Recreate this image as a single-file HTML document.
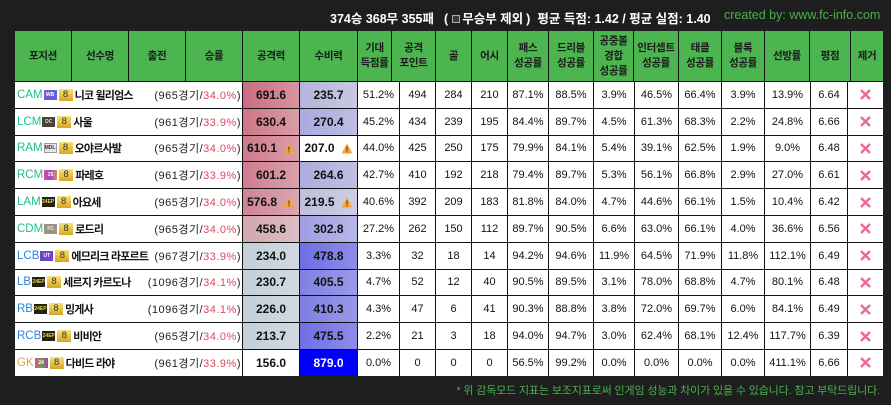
<!DOCTYPE html>
<html><head><meta charset="utf-8">
<style>
*{margin:0;padding:0;box-sizing:border-box}
html,body{width:891px;height:405px}
body{background:#1e1e1e;position:relative;overflow:hidden;font-family:"Liberation Sans","Noto Sans CJK KR",sans-serif}
.title{position:absolute;left:330px;top:11px;color:#fff;font-weight:bold;font-size:12.5px;white-space:nowrap;line-height:16px}
.title .sq{display:inline-block;width:8px;height:8px;background:#3a3a3a;border:1px solid #aaa;margin:0 2px 0 4px;vertical-align:0px}
.credit{position:absolute;left:724px;top:7px;color:#4caf50;font-size:12.5px;white-space:nowrap;line-height:16px}
.foot{position:absolute;right:11px;top:384px;color:#4caf50;font-size:11px;letter-spacing:-0.15px;white-space:nowrap;line-height:14px}
.hdr{position:absolute;left:15px;top:31px;width:868px;height:51px;display:grid;
grid-template-columns:56px 56px 56px 56px 56px 57px 33px 43px 35px 35px 40px 44px 39px 44px 42px 42px 44px 40px 32px;
grid-template-rows:50px;column-gap:1px;background:#111}
.hdr div{background:#4cb54f;display:flex;align-items:center;justify-content:center;text-align:center;font-weight:bold;font-size:10.5px;color:#1b1b1b;line-height:15px;letter-spacing:-0.3px;white-space:nowrap}
.bd{position:absolute;left:15px;top:82px;width:868px;height:294px;display:grid;
grid-template-columns:227px 56px 57px 41px 35px 35px 35px 40px 44px 40px 43px 42px 42px 45px 36px 35px;
grid-template-rows:repeat(11,25.8px);gap:1px;background:#111}
.bd>div{background:#fff;display:flex;align-items:center;justify-content:center;font-size:11px;color:#111;white-space:nowrap}
.bd>div.nm{justify-content:flex-start;padding:0 1px 0 2px}
.p{font-size:11.5px}
.m{color:#1fbe8b}.d{color:#2c83dc}.g{color:#e0a234}
.ic{display:inline-block;width:13px;height:10px;font-size:5px;font-style:normal;line-height:10px;text-align:center;margin-left:1px;overflow:hidden;font-weight:bold;font-family:"Liberation Sans",sans-serif}
.b8{display:inline-block;width:14px;height:12px;margin-left:2px;background:linear-gradient(#f7e07a,#d6a81c);color:#333;font-size:9.5px;line-height:12px;text-align:center;font-weight:normal;font-style:normal}
.n{font-weight:bold;font-size:11px;margin-left:2px;color:#111;letter-spacing:-0.8px}
.r{margin-left:auto;font-size:11px;color:#222;letter-spacing:0.5px}
.r em{font-style:normal;color:#e2455f}
.bd>div.v{font-weight:bold;font-size:12px}
.w{margin-left:6px;display:inline-block}
</style></head><body>
<div class="title">374승 368무 355패<span style="margin-left:10px">(<span class="sq"></span>무승부 제외<span style="margin-left:3px">)</span></span><span style="margin-left:7px">평균 득점: 1.42 / 평균 실점: 1.40</span></div>
<div class="credit">created by: www.fc-info.com</div>

<div class="hdr">
<div>포지션</div><div>선수명</div><div>출전</div><div>승률</div><div>공격력</div><div>수비력</div>
<div>기대<br>득점률</div><div>공격<br>포인트</div><div>골</div><div>어시</div><div>패스<br>성공률</div><div>드리블<br>성공률</div><div>공중볼<br>경합<br>성공률</div><div>인터셉트<br>성공률</div><div>태클<br>성공률</div><div>블록<br>성공률</div><div>선방률</div><div>평점</div><div>제거</div>
</div>

<div class="bd">
<!-- row 1 -->
<div class="nm"><span class="p m">CAM</span><i class="ic" style="background:#6b5fd8;color:#fff">WB</i><i class="b8">8</i><span class="n">니코 윌리엄스</span><span class="r">(965경기/<em>34.0%</em>)</span></div>
<div class="v" style="background:linear-gradient(90deg,#cb6c81,#d8949f)">691.6</div>
<div class="v" style="background:linear-gradient(90deg,#b4b4de,#c8c8e4)">235.7</div>
<div>51.2%</div><div>494</div><div>284</div><div>210</div><div>87.1%</div><div>88.5%</div><div>3.9%</div><div>46.5%</div><div>66.4%</div><div>3.9%</div><div>13.9%</div><div>6.64</div>
<div><svg width="13" height="13" viewBox="0 0 13 13"><path d="M2 2L11 11M11 2L2 11" stroke="#ec6a8a" stroke-width="2.4"/></svg></div>
<!-- row 2 -->
<div class="nm"><span class="p m">LCM</span><i class="ic" style="background:#4a4236;color:#ddd">DC</i><i class="b8">8</i><span class="n">사울</span><span class="r">(961경기/<em>33.9%</em>)</span></div>
<div class="v" style="background:linear-gradient(90deg,#cd7688,#d99ca7)">630.4</div>
<div class="v" style="background:linear-gradient(90deg,#a9a9e0,#bdbde4)">270.4</div>
<div>45.2%</div><div>434</div><div>239</div><div>195</div><div>84.4%</div><div>89.7%</div><div>4.5%</div><div>61.3%</div><div>68.3%</div><div>2.2%</div><div>24.8%</div><div>6.66</div>
<div><svg width="13" height="13" viewBox="0 0 13 13"><path d="M2 2L11 11M11 2L2 11" stroke="#ec6a8a" stroke-width="2.4"/></svg></div>
<!-- row 3 -->
<div class="nm"><span class="p m">RAM</span><i class="ic" style="background:#e6e6e6;color:#333;outline:1px solid #999;outline-offset:-1px">MDL</i><i class="b8">8</i><span class="n">오야르사발</span><span class="r">(965경기/<em>34.0%</em>)</span></div>
<div class="v" style="background:linear-gradient(90deg,#ce7a8c,#d99ea9)">610.1<svg class="w" width="12" height="11" viewBox="0 0 12 11"><path d="M6 0.5L11.5 10.5H0.5Z" fill="#f3a537"/><rect x="5.4" y="3.5" width="1.2" height="4" fill="#6a4300"/><rect x="5.4" y="8.3" width="1.2" height="1.2" fill="#6a4300"/></svg></div>
<div class="v">207.0<svg class="w" width="12" height="11" viewBox="0 0 12 11"><path d="M6 0.5L11.5 10.5H0.5Z" fill="#f3a537"/><rect x="5.4" y="3.5" width="1.2" height="4" fill="#6a4300"/><rect x="5.4" y="8.3" width="1.2" height="1.2" fill="#6a4300"/></svg></div>
<div>44.0%</div><div>425</div><div>250</div><div>175</div><div>79.9%</div><div>84.1%</div><div>5.4%</div><div>39.1%</div><div>62.5%</div><div>1.9%</div><div>9.0%</div><div>6.48</div>
<div><svg width="13" height="13" viewBox="0 0 13 13"><path d="M2 2L11 11M11 2L2 11" stroke="#ec6a8a" stroke-width="2.4"/></svg></div>
<!-- row 4 -->
<div class="nm"><span class="p m">RCM</span><i class="ic" style="background:linear-gradient(90deg,#d84a9a,#a04ad0,#e08a40);color:#fff">25</i><i class="b8">8</i><span class="n">파레호</span><span class="r">(961경기/<em>33.9%</em>)</span></div>
<div class="v" style="background:linear-gradient(90deg,#cf7c8e,#daa0aa)">601.2</div>
<div class="v" style="background:linear-gradient(90deg,#acacdf,#c0c0e4)">264.6</div>
<div>42.7%</div><div>410</div><div>192</div><div>218</div><div>79.4%</div><div>89.7%</div><div>5.3%</div><div>56.1%</div><div>66.8%</div><div>2.9%</div><div>27.0%</div><div>6.61</div>
<div><svg width="13" height="13" viewBox="0 0 13 13"><path d="M2 2L11 11M11 2L2 11" stroke="#ec6a8a" stroke-width="2.4"/></svg></div>
<!-- row 5 -->
<div class="nm"><span class="p m">LAM</span><i class="ic" style="background:#23230e;color:#e8d050">24EP</i><i class="b8">8</i><span class="n">아요세</span><span class="r">(965경기/<em>34.0%</em>)</span></div>
<div class="v" style="background:linear-gradient(90deg,#d08497,#dba6b0)">576.8<svg class="w" width="12" height="11" viewBox="0 0 12 11"><path d="M6 0.5L11.5 10.5H0.5Z" fill="#f3a537"/><rect x="5.4" y="3.5" width="1.2" height="4" fill="#6a4300"/><rect x="5.4" y="8.3" width="1.2" height="1.2" fill="#6a4300"/></svg></div>
<div class="v" style="background:linear-gradient(90deg,#bebedd,#cdcde3)">219.5<svg class="w" width="12" height="11" viewBox="0 0 12 11"><path d="M6 0.5L11.5 10.5H0.5Z" fill="#f3a537"/><rect x="5.4" y="3.5" width="1.2" height="4" fill="#6a4300"/><rect x="5.4" y="8.3" width="1.2" height="1.2" fill="#6a4300"/></svg></div>
<div>40.6%</div><div>392</div><div>209</div><div>183</div><div>81.8%</div><div>84.0%</div><div>4.7%</div><div>44.6%</div><div>66.1%</div><div>1.5%</div><div>10.4%</div><div>6.42</div>
<div><svg width="13" height="13" viewBox="0 0 13 13"><path d="M2 2L11 11M11 2L2 11" stroke="#ec6a8a" stroke-width="2.4"/></svg></div>
<!-- row 6 -->
<div class="nm"><span class="p m">CDM</span><i class="ic" style="background:#9c9482;color:#eee">FC</i><i class="b8">8</i><span class="n">로드리</span><span class="r">(965경기/<em>34.0%</em>)</span></div>
<div class="v" style="background:linear-gradient(90deg,#d2a6b1,#dcbec4)">458.6</div>
<div class="v" style="background:linear-gradient(90deg,#9f9fe2,#b6b6e6)">302.8</div>
<div>27.2%</div><div>262</div><div>150</div><div>112</div><div>89.7%</div><div>90.5%</div><div>6.6%</div><div>63.0%</div><div>66.1%</div><div>4.0%</div><div>36.6%</div><div>6.56</div>
<div><svg width="13" height="13" viewBox="0 0 13 13"><path d="M2 2L11 11M11 2L2 11" stroke="#ec6a8a" stroke-width="2.4"/></svg></div>
<!-- row 7 -->
<div class="nm"><span class="p d">LCB</span><i class="ic" style="background:#6c44c4;color:#fff">UT</i><i class="b8">8</i><span class="n">에므리크 라포르트</span><span class="r">(967경기/<em>33.9%</em>)</span></div>
<div class="v" style="background:linear-gradient(90deg,#c4cfd8,#d0d9df)">234.0</div>
<div class="v" style="background:linear-gradient(90deg,#6e6ee4,#8c8ce8)">478.8</div>
<div>3.3%</div><div>32</div><div>18</div><div>14</div><div>94.2%</div><div>94.6%</div><div>11.9%</div><div>64.5%</div><div>71.9%</div><div>11.8%</div><div>112.1%</div><div>6.49</div>
<div><svg width="13" height="13" viewBox="0 0 13 13"><path d="M2 2L11 11M11 2L2 11" stroke="#ec6a8a" stroke-width="2.4"/></svg></div>
<!-- row 8 -->
<div class="nm"><span class="p d">LB</span><i class="ic" style="background:#23230e;color:#e8d050">24EP</i><i class="b8">8</i><span class="n">세르지 카르도나</span><span class="r">(1096경기/<em>34.1%</em>)</span></div>
<div class="v" style="background:linear-gradient(90deg,#c4cfd8,#d0d9df)">230.7</div>
<div class="v" style="background:linear-gradient(90deg,#8080e3,#9a9ae8)">405.5</div>
<div>4.7%</div><div>52</div><div>12</div><div>40</div><div>90.5%</div><div>89.5%</div><div>3.1%</div><div>78.0%</div><div>68.8%</div><div>4.7%</div><div>80.1%</div><div>6.48</div>
<div><svg width="13" height="13" viewBox="0 0 13 13"><path d="M2 2L11 11M11 2L2 11" stroke="#ec6a8a" stroke-width="2.4"/></svg></div>
<!-- row 9 -->
<div class="nm"><span class="p d">RB</span><i class="ic" style="background:#23230e;color:#e8d050">24EP</i><i class="b8">8</i><span class="n">밍게사</span><span class="r">(1096경기/<em>34.1%</em>)</span></div>
<div class="v" style="background:linear-gradient(90deg,#c4cfd8,#d0d9df)">226.0</div>
<div class="v" style="background:linear-gradient(90deg,#7e7ee3,#9898e8)">410.3</div>
<div>4.3%</div><div>47</div><div>6</div><div>41</div><div>90.3%</div><div>88.8%</div><div>3.8%</div><div>72.0%</div><div>69.7%</div><div>6.0%</div><div>84.1%</div><div>6.49</div>
<div><svg width="13" height="13" viewBox="0 0 13 13"><path d="M2 2L11 11M11 2L2 11" stroke="#ec6a8a" stroke-width="2.4"/></svg></div>
<!-- row 10 -->
<div class="nm"><span class="p d">RCB</span><i class="ic" style="background:#23230e;color:#e8d050">24EP</i><i class="b8">8</i><span class="n">비비안</span><span class="r">(965경기/<em>34.0%</em>)</span></div>
<div class="v" style="background:linear-gradient(90deg,#c4cfd8,#d0d9df)">213.7</div>
<div class="v" style="background:linear-gradient(90deg,#6f6fe4,#8c8ce8)">475.5</div>
<div>2.2%</div><div>21</div><div>3</div><div>18</div><div>94.0%</div><div>94.7%</div><div>3.0%</div><div>62.4%</div><div>68.1%</div><div>12.4%</div><div>117.7%</div><div>6.39</div>
<div><svg width="13" height="13" viewBox="0 0 13 13"><path d="M2 2L11 11M11 2L2 11" stroke="#ec6a8a" stroke-width="2.4"/></svg></div>
<!-- row 11 -->
<div class="nm"><span class="p g">GK</span><i class="ic" style="background:linear-gradient(90deg,#e04aa0,#7a9a40,#9a40c0);color:#fff">24</i><i class="b8">8</i><span class="n">다비드 라야</span><span class="r">(961경기/<em>33.9%</em>)</span></div>
<div class="v">156.0</div>
<div class="v" style="background:#0000ff;color:#fff">879.0</div>
<div>0.0%</div><div>0</div><div>0</div><div>0</div><div>56.5%</div><div>99.2%</div><div>0.0%</div><div>0.0%</div><div>0.0%</div><div>0.0%</div><div>411.1%</div><div>6.66</div>
<div><svg width="13" height="13" viewBox="0 0 13 13"><path d="M2 2L11 11M11 2L2 11" stroke="#ec6a8a" stroke-width="2.4"/></svg></div>
</div>

<div class="foot">* 위 감독모드 지표는 보조지표로써 인게임 성능과 차이가 있을 수 있습니다. 참고 부탁드립니다.</div>
</body></html>
